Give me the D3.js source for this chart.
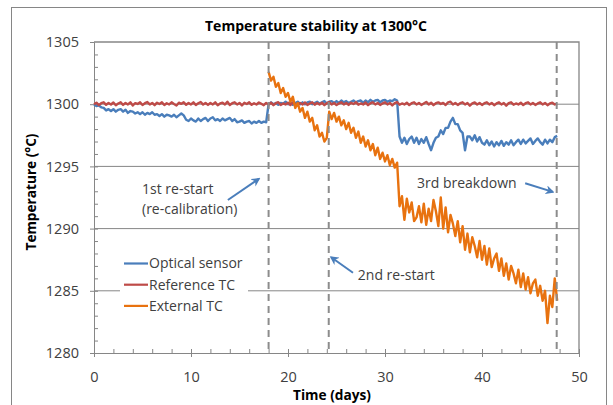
<!DOCTYPE html>
<html>
<head>
<meta charset="utf-8">
<script src="https://cdn.jsdelivr.net/npm/d3@7"></script>
<style>
  body { margin: 0; background: #fff; }
  svg { display: block; font-family: "Open Sans", sans-serif; }
</style>
</head>
<body>
<svg id="chart"></svg>
<script>
const width = 613;
const height = 405;

// readings every quarter day
const sample_step = 0.25;
const external_start = 18; // external TC only logged from the 1st re-start

const series_names = ['Optical sensor', 'Reference TC', 'External TC'];

const optical = [
  1300.0, 1299.85, 1299.9, 1299.75, 1299.7, 1299.5, 1299.6, 1299.45,
  1299.6, 1299.4, 1299.55, 1299.6, 1299.4, 1299.55, 1299.3, 1299.45,
  1299.4, 1299.25, 1299.35, 1299.2, 1299.35, 1299.15, 1299.3, 1299.2,
  1299.35, 1299.15, 1299.2, 1299.05, 1299.2, 1299.0, 1299.15, 1299.1,
  1299.0, 1299.15, 1298.95, 1299.1, 1299.25, 1299.1, 1298.75, 1298.65,
  1298.85, 1298.7, 1298.6, 1298.85, 1298.65, 1298.8, 1298.9, 1298.65,
  1298.85, 1298.95, 1298.7, 1298.8, 1298.65, 1298.85, 1298.7, 1298.8,
  1298.9, 1298.65, 1298.8, 1298.55, 1298.6, 1298.7, 1298.5, 1298.6,
  1298.65, 1298.45, 1298.6, 1298.5, 1298.65, 1298.5, 1298.6, 1298.55,
  1300.0, 1300.15, 1300.0, 1300.1, 1299.95, 1300.1, 1300.05, 1300.2,
  1300.0, 1300.15, 1299.95, 1300.1, 1300.2, 1300.0, 1300.15, 1300.0,
  1300.15, 1300.2, 1300.0, 1300.1, 1300.2, 1300.05, 1300.15, 1300.25,
  1300.05, 1300.2, 1300.25, 1300.1, 1300.25, 1300.1, 1300.3, 1300.15,
  1300.25, 1300.1, 1300.2, 1300.3, 1300.15, 1300.25, 1300.3, 1300.1,
  1300.3, 1300.15, 1300.35, 1300.2, 1300.3, 1300.35, 1300.15, 1300.3,
  1300.35, 1300.2, 1300.3, 1300.25, 1300.4, 1300.3, 1297.4, 1296.9,
  1297.3, 1296.8, 1297.2, 1297.4, 1296.9, 1297.3, 1296.8, 1297.2,
  1296.9, 1297.35, 1296.8, 1296.3, 1296.9, 1297.3, 1297.4, 1297.9,
  1297.6, 1298.1, 1298.1, 1298.6, 1298.9, 1298.4, 1298.4, 1297.9,
  1297.7, 1296.3, 1297.4, 1297.4, 1297.1, 1297.5, 1297.0, 1297.35,
  1296.9, 1296.75, 1297.1, 1296.7, 1297.0, 1296.6, 1296.95, 1296.7,
  1297.05, 1296.65, 1296.95, 1296.75, 1297.1, 1296.7, 1296.95, 1297.15,
  1296.8, 1297.15, 1296.85, 1297.05, 1297.25, 1296.8, 1297.05, 1297.25,
  1296.95, 1296.75, 1297.15, 1296.85, 1297.15, 1296.95, 1297.35, 1297.45,
];

const reference = [
  1300.0, 1300.12, 1299.92, 1300.08, 1300.15, 1299.95, 1300.1, 1299.98,
  1300.14, 1299.92, 1300.06, 1300.16, 1299.94, 1300.1, 1299.98, 1300.15,
  1299.9, 1300.08, 1300.02, 1300.15, 1299.94, 1300.08, 1300.17, 1299.98,
  1300.1, 1299.92, 1300.12, 1300.02, 1300.15, 1299.93, 1300.08, 1299.98,
  1300.15, 1300.02, 1299.9, 1300.12, 1300.03, 1300.16, 1299.95, 1300.1,
  1299.98, 1300.15, 1299.93, 1300.08, 1300.18, 1299.97, 1300.1, 1299.94,
  1300.1, 1299.98, 1300.15, 1299.92, 1300.06, 1300.12, 1299.97, 1300.2,
  1299.94, 1300.08, 1300.15, 1299.98, 1300.1, 1299.9, 1300.12, 1300.02,
  1300.15, 1299.95, 1300.08, 1299.98, 1300.14, 1300.03, 1299.92, 1300.1,
  1299.98, 1300.12, 1299.92, 1300.08, 1300.16, 1299.94, 1300.06, 1299.98,
  1300.12, 1299.93, 1300.15, 1300.02, 1299.92, 1300.1, 1299.98, 1300.14,
  1299.94, 1300.06, 1300.15, 1299.96, 1300.1, 1299.98, 1300.12, 1299.92,
  1300.08, 1300.17, 1299.98, 1300.1, 1299.93, 1300.06, 1300.15, 1299.98,
  1300.1, 1299.94, 1300.12, 1300.02, 1300.16, 1299.96, 1300.06, 1299.98,
  1300.14, 1299.92, 1300.08, 1300.15, 1299.98, 1300.1, 1299.94, 1300.06,
  1300.15, 1299.98, 1300.1, 1299.9, 1300.08, 1300.17, 1299.96, 1300.06,
  1299.98, 1300.12, 1299.93, 1300.08, 1300.15, 1299.98, 1300.1, 1299.94,
  1300.06, 1300.18, 1299.98, 1300.12, 1299.92, 1300.08, 1300.15, 1300.02,
  1300.1, 1299.93, 1300.15, 1300.2, 1299.98, 1300.1, 1299.94, 1300.08,
  1300.15, 1299.98, 1300.1, 1299.88, 1300.06, 1300.14, 1299.98, 1300.1,
  1299.94, 1300.08, 1300.15, 1299.98, 1300.1, 1299.92, 1300.06, 1300.15,
  1299.98, 1300.1, 1299.88, 1300.08, 1300.15, 1299.96, 1300.06, 1299.98,
  1300.12, 1299.93, 1300.08, 1300.15, 1299.98, 1300.1, 1299.94, 1300.06,
  1300.15, 1299.98, 1300.1, 1299.92, 1300.06, 1300.12, 1299.98, 1300.02,
];

const external = [
  1302.6, 1301.9, 1302.2, 1301.4, 1301.7, 1300.9, 1301.3, 1300.6,
  1300.9, 1300.2, 1300.6, 1299.7, 1300.1, 1299.4, 1299.7, 1298.9,
  1299.4, 1298.6, 1298.9, 1297.9, 1298.3, 1297.4, 1297.7, 1297.0,
  1297.3, 1299.4, 1298.8, 1299.3, 1298.6, 1299.0, 1298.3, 1298.7,
  1298.0, 1298.5, 1297.7, 1298.1, 1297.3, 1297.8, 1296.9, 1297.4,
  1296.6, 1297.1, 1296.3, 1296.8, 1295.9, 1296.5, 1295.6, 1296.1,
  1295.4, 1295.9, 1295.1, 1295.6, 1294.9, 1295.3, 1291.8, 1292.6,
  1290.7, 1292.4, 1291.3, 1292.1, 1290.6, 1290.9, 1291.8, 1290.5,
  1292.0, 1290.3, 1291.6, 1290.6, 1292.3, 1291.4, 1290.2, 1292.5,
  1290.0, 1291.7, 1289.7, 1291.1, 1290.4, 1289.4, 1290.6, 1288.9,
  1290.2, 1288.3, 1289.6, 1288.1, 1289.3, 1288.6, 1287.7, 1289.0,
  1287.5, 1288.6, 1287.1, 1288.4, 1286.9, 1287.6, 1288.0, 1286.6,
  1287.6, 1286.2, 1287.2, 1285.9, 1287.0, 1286.4, 1285.6, 1286.7,
  1285.3, 1286.4, 1285.1, 1286.1, 1284.8, 1285.6, 1285.9, 1284.6,
  1285.4, 1284.2, 1285.0, 1282.4, 1284.6, 1283.7, 1286.0, 1284.2,
];

// days of the re-starts / breakdown (dashed markers)
const event_days = [18, 24.2, 47.7];

const x_ticks = [0, 10, 20, 30, 40, 50];
const y_ticks = [1280, 1285, 1290, 1295, 1300, 1305];

const note_texts = [
  ['1st re-start', '(re-calibration)'],
  ['2nd re-start'],
  ['3rd breakdown'],
];

const colors = ['#4a7ebb', '#be4b48', '#e8720f'];
const grey = '#868686';
const text_grey = '#404040';

const svg = d3.select('#chart')
  .attr('width', width)
  .attr('height', height);

const plot = { left: 94, right: 579, top: 42, bottom: 353 };

const x = d3.scaleLinear().domain([0, 50]).range([plot.left, plot.right]);
const y = d3.scaleLinear().domain([1280, 1305]).range([plot.bottom, plot.top]);

// outer chart frame
svg.append('rect')
  .attr('x', 11.5).attr('y', 7.5)
  .attr('width', 595).attr('height', 420)
  .attr('fill', 'none')
  .attr('stroke', grey);

svg.append('text')
  .attr('x', 316).attr('y', 31)
  .attr('text-anchor', 'middle')
  .attr('font-size', 15)
  .attr('font-weight', 'bold')
  .attr('textLength', 222)
  .attr('lengthAdjust', 'spacingAndGlyphs')
  .text('Temperature stability at 1300°C');

// gridlines
svg.append('g')
  .selectAll('line')
  .data(y_ticks.filter((d) => d > 1280 && d < 1305))
  .enter().append('line')
    .attr('x1', plot.left).attr('x2', plot.right)
    .attr('y1', (d) => y(d)).attr('y2', (d) => y(d))
    .attr('stroke', grey);

// plot frame top + right
svg.append('path')
  .attr('d', `M${plot.left},${plot.top}H${plot.right}V${plot.bottom}`)
  .attr('fill', 'none')
  .attr('stroke', grey)
  .attr('stroke-width', 1.3);

// axes
const yAxis = svg.append('g')
  .attr('transform', `translate(${plot.left},0)`)
  .call(d3.axisLeft(y).tickValues(y_ticks).tickSize(4).tickPadding(11).tickFormat(d3.format('d')));
svg.append('g')
  .attr('transform', `translate(${plot.left},0)`)
  .call(d3.axisLeft(y).tickValues(d3.range(1281, 1305)).tickSize(-4).tickFormat(''))
  .call((g) => g.select('.domain').remove());

const xAxis = svg.append('g')
  .attr('transform', `translate(0,${plot.bottom})`)
  .call(d3.axisBottom(x).tickValues(x_ticks).tickSize(4).tickPadding(0).tickFormat(d3.format('d')));
svg.append('g')
  .attr('transform', `translate(0,${plot.bottom})`)
  .call(d3.axisBottom(x).tickValues(d3.range(0, 51, 2)).tickSize(-4).tickFormat(''))
  .call((g) => g.select('.domain').remove());

svg.selectAll('.domain, .tick line').attr('stroke', grey);
yAxis.selectAll('text')
  .attr('font-size', 14.5)
  .attr('font-family', '"Open Sans", sans-serif')
  .attr('fill', text_grey);
xAxis.selectAll('text')
  .attr('y', 28.5).attr('dy', 0)
  .attr('font-size', 14.5)
  .attr('font-family', '"Open Sans", sans-serif')
  .attr('fill', text_grey);

svg.append('text')
  .attr('x', 332).attr('y', 400)
  .attr('text-anchor', 'middle')
  .attr('font-size', 14)
  .attr('font-weight', 'bold')
  .attr('textLength', 78)
  .attr('lengthAdjust', 'spacingAndGlyphs')
  .text('Time (days)');

svg.append('text')
  .attr('transform', 'translate(36,192) rotate(-90)')
  .attr('text-anchor', 'middle')
  .attr('font-size', 14)
  .attr('font-weight', 'bold')
  .attr('textLength', 117)
  .attr('lengthAdjust', 'spacingAndGlyphs')
  .text('Temperature (°C)');

// data lines
const line = d3.line()
  .x((d) => x(d.t))
  .y((d) => y(d.v));

function toPoints(values, start) {
  return values.map((v, i) => ({ t: start + i * sample_step, v }));
}

const series = [toPoints(optical, 0), toPoints(reference, 0), toPoints(external, external_start)];

svg.append('g')
  .selectAll('path')
  .data(series)
  .enter().append('path')
    .attr('d', line)
    .attr('fill', 'none')
    .attr('stroke', (d, i) => colors[i])
    .attr('stroke-width', 2.4)
    .attr('stroke-linejoin', 'round');

// dashed event markers
svg.append('g')
  .selectAll('line')
  .data(event_days)
  .enter().append('line')
    .attr('x1', (d) => x(d)).attr('x2', (d) => x(d))
    .attr('y1', plot.top).attr('y2', plot.bottom)
    .attr('stroke', '#8c8c8c')
    .attr('stroke-width', 2)
    .attr('stroke-dasharray', '7,5');

// legend (white box hides the gridline behind it)
const legend = svg.append('g');
legend.append('rect')
  .attr('x', 120).attr('y', 252)
  .attr('width', 128).attr('height', 62)
  .attr('fill', '#fff');
series_names.forEach((name, i) => {
  const ly = 263.5 + i * 21.2;
  legend.append('line')
    .attr('x1', 124).attr('x2', 148)
    .attr('y1', ly).attr('y2', ly)
    .attr('stroke', colors[i])
    .attr('stroke-width', 2.2);
  legend.append('text')
    .attr('x', 149).attr('y', ly)
    .attr('dy', '0.35em')
    .attr('font-size', 14)
    .attr('fill', text_grey)
    .text(name);
});

// annotations, placed in data units
const note_layout = [
  { day: 4.95, temp: 1293.2, from: [13.8, 1292.3], to: [17.0, 1294.0] },
  { day: 27.2, temp: 1286.25, from: [26.7, 1286.45], to: [24.45, 1287.7] },
  { day: 33.3, temp: 1293.65, from: [44.45, 1293.65], to: [47.3, 1292.95] },
];

svg.append('defs').append('marker')
  .attr('id', 'arrow')
  .attr('viewBox', '0 0 10 10')
  .attr('refX', 8).attr('refY', 5)
  .attr('markerWidth', 4.5).attr('markerHeight', 4.5)
  .attr('orient', 'auto')
  .append('path')
    .attr('d', 'M0,0L10,5L0,10L3,5Z')
    .attr('fill', colors[0]);

note_texts.forEach((lines, i) => {
  const n = note_layout[i];
  const t = svg.append('text')
    .attr('font-size', 14)
    .attr('fill', text_grey);
  lines.forEach((s, j) => {
    t.append('tspan')
      .attr('x', x(n.day))
      .attr('y', y(n.temp) + j * 20)
      .attr('dy', '0.35em')
      .text(s);
  });
  svg.append('line')
    .attr('x1', x(n.from[0])).attr('y1', y(n.from[1]))
    .attr('x2', x(n.to[0])).attr('y2', y(n.to[1]))
    .attr('stroke', colors[0])
    .attr('stroke-width', 2)
    .attr('marker-end', 'url(#arrow)');
});
</script>
</body>
</html>
